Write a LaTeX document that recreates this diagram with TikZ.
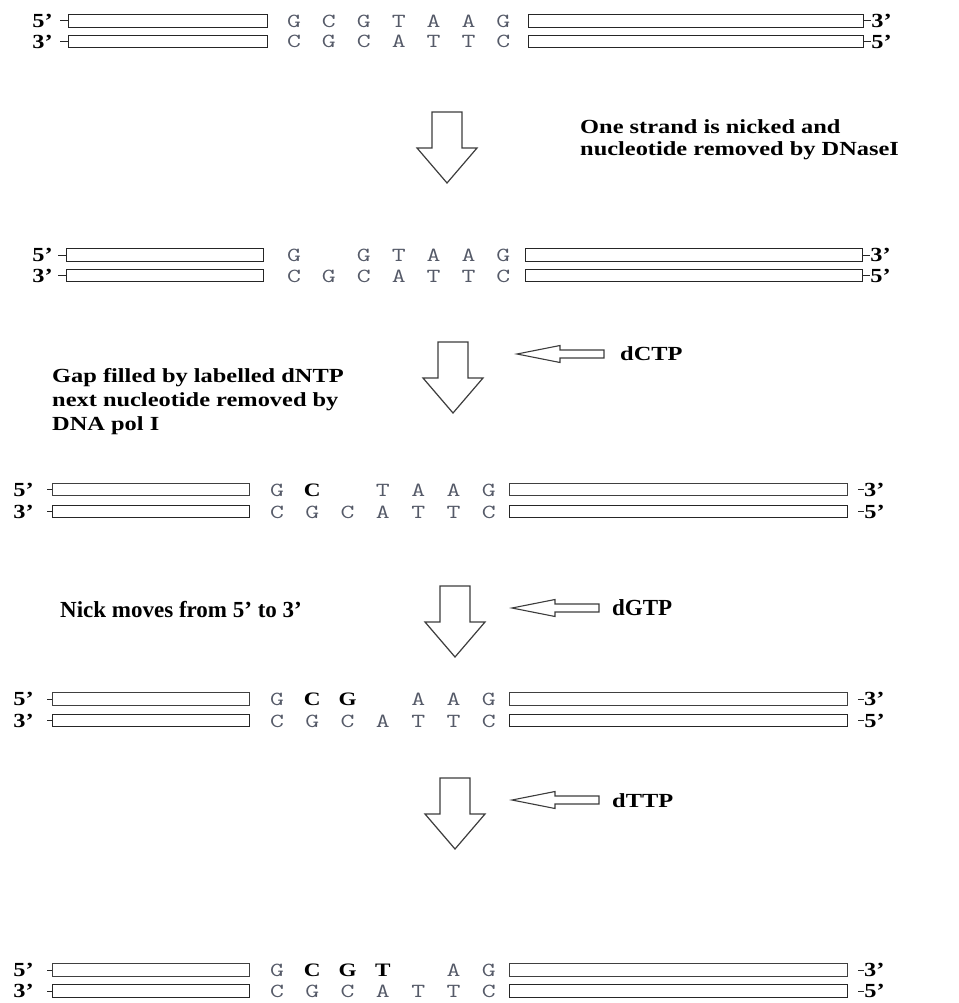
\documentclass[tikz,border=0pt]{standalone}
\usepackage{fontspec}
\setmainfont{Liberation Serif}
\newfontfamily\notefont[FakeStretch=1.22]{Liberation Serif}
\newfontfamily\nickfont{Liberation Serif}
\definecolor{basegray}{RGB}{85,90,104}
\definecolor{arrowgray}{RGB}{60,60,60}
\newcommand{\nt}[1]{\scalebox{1.35}[1]{#1}}
\begin{document}
\begin{tikzpicture}[x=1pt,y=-1pt,
  strand/.style={draw=black!85, line width=1.1pt, fill=white, inner sep=0pt,
    minimum height=12.5pt, anchor=west},
  newstrand/.style={strand, draw=black!75, line width=0.9pt, append after command={
    [draw=gray!45, line width=2pt]
    ([shift={(1.5pt,-1.5pt)}]\tikzlastnode.north west) rectangle
    ([shift={(-1.5pt,1.5pt)}]\tikzlastnode.south east)}},
  base/.style={font=\ttfamily\fontsize{20}{20}\selectfont, text=basegray,
    inner sep=0pt, anchor=base},
  newbase/.style={base, font=\notefont\bfseries\fontsize{19}{19}\selectfont, text=black},
  endlab/.style={font=\notefont\bfseries\fontsize{20}{20}\selectfont, inner sep=0pt},
  note/.style={font=\notefont\bfseries\fontsize{20}{20}\selectfont, inner sep=0pt,
    anchor=base west},
  nick/.style={font=\nickfont\bfseries\fontsize{23}{23}\selectfont, inner sep=0pt,
    anchor=base west},
  tick/.style={line width=1pt, black!85},
  bigdown/.pic={\draw[arrowgray, line width=1.2pt, line join=miter, fill=white]
    (-15,0) -- (15,0) -- (15,36) -- (30,36) -- (0,71) -- (-30,36) -- (-15,36) -- cycle;},
  smallleft/.pic={\draw[arrowgray, line width=1.1pt, fill=white]
    (0,0) -- (43,-8.5) -- (43,-4) -- (87,-4) -- (87,4) -- (43,4) -- (43,8.5) -- cycle;}
]
\useasboundingbox (0,0) rectangle (958,1003);

% ---------- row 1 : intact duplex ----------
\node[strand, minimum width=199pt] (r1tl) at (68,21) {};
\node[strand, minimum width=199pt] (r1bl) at (68,41.5) {};
\node[strand, minimum width=335pt] (r1tr) at (528,21) {};
\node[strand, minimum width=335pt] (r1br) at (528,41.5) {};
\draw[tick] (r1tl.west) -- ++(-8,0) coordinate (r1tla);
\draw[tick] (r1bl.west) -- ++(-8,0) coordinate (r1bla);
\draw[tick] (r1tr.east) -- ++(7,0) coordinate (r1tra);
\draw[tick] (r1br.east) -- ++(7,0) coordinate (r1bra);
\node[endlab, anchor=east] (r1t5) at ([xshift=-7pt]r1tla) {5’};
\node[endlab, anchor=east] (r1b3) at ([xshift=-7pt]r1bla) {3’};
\node[endlab, anchor=west] (r1t3) at (r1tra) {3’};
\node[endlab, anchor=west] (r1b5) at (r1bra) {5’};
\foreach \l [count=\k from 0] in {G,C,G,T,A,A,G}
  \node[base] (r1t\k) at ({294+34.9*\k},27.5) {\nt{\l}};
\foreach \l [count=\k from 0] in {C,G,C,A,T,T,C}
  \node[base] (r1b\k) at ({294+34.9*\k},48) {\nt{\l}};

% ---------- arrow 1 ----------
\pic at (447,112) {bigdown};
\node[note] (n1a) at (580,134) {One strand is nicked and};
\node[note] (n1b) at (580,156) {nucleotide removed by DNaseI};

% ---------- row 2 : nicked strand ----------
\node[strand, minimum width=197pt] (r2tl) at (66,255) {};
\node[strand, minimum width=197pt] (r2bl) at (66,275.5) {};
\node[strand, minimum width=337pt] (r2tr) at (525,255) {};
\node[strand, minimum width=337pt] (r2br) at (525,275.5) {};
\draw[tick] (r2tl.west) -- ++(-8,0) coordinate (r2tla);
\draw[tick] (r2bl.west) -- ++(-8,0) coordinate (r2bla);
\draw[tick] (r2tr.east) -- ++(7,0) coordinate (r2tra);
\draw[tick] (r2br.east) -- ++(7,0) coordinate (r2bra);
\node[endlab, anchor=east] (r2t5) at ([xshift=-5pt]r2tla) {5’};
\node[endlab, anchor=east] (r2b3) at ([xshift=-5pt]r2bla) {3’};
\node[endlab, anchor=west] (r2t3) at (r2tra) {3’};
\node[endlab, anchor=west] (r2b5) at (r2bra) {5’};
\foreach \k/\l in {0/G,2/G,3/T,4/A,5/A,6/G}
  \node[base] (r2t\k) at ({294+34.9*\k},261.5) {\nt{\l}};
\foreach \l [count=\k from 0] in {C,G,C,A,T,T,C}
  \node[base] (r2b\k) at ({294+34.9*\k},282) {\nt{\l}};

% ---------- arrow 2 with dCTP ----------
\pic at (453,342) {bigdown};
\pic at (517,354) {smallleft};
\node[note] (dctp) at (620,360) {dCTP};
\node[note] (n2a) at (52,382) {Gap filled by labelled dNTP};
\node[note] (n2b) at (52,406) {next nucleotide removed by};
\node[note] (n2c) at (52,430) {DNA pol I};

% ---------- row 3 : C incorporated ----------
\node[newstrand, minimum width=197pt] (r3tl) at (52,489.5) {};
\node[strand, minimum width=197pt] (r3bl) at (52,511.5) {};
\node[newstrand, minimum width=338pt] (r3tr) at (509,489.5) {};
\node[strand, minimum width=338pt] (r3br) at (509,511.5) {};
\draw[tick] (r3tl.west) -- ++(-5,0) coordinate (r3tla);
\draw[tick] (r3bl.west) -- ++(-5,0) coordinate (r3bla);
\draw[tick] ([xshift=10pt]r3tr.east) -- ++(6,0) coordinate (r3tra);
\draw[tick] ([xshift=10pt]r3br.east) -- ++(6,0) coordinate (r3bra);
\node[endlab, anchor=east] (r3t5) at ([xshift=-13pt]r3tla) {5’};
\node[endlab, anchor=east] (r3b3) at ([xshift=-13pt]r3bla) {3’};
\node[endlab, anchor=west] (r3t3) at (r3tra) {3’};
\node[endlab, anchor=west] (r3b5) at (r3bra) {5’};
\foreach \k/\l in {0/G,3/T,4/A,5/A,6/G}
  \node[base] (r3t\k) at ({277+35.3*\k},496) {\nt{\l}};
\node[newbase] (r3t1) at ({277+35.3},496) {C};
\foreach \l [count=\k from 0] in {C,G,C,A,T,T,C}
  \node[base] (r3b\k) at ({277+35.3*\k},518) {\nt{\l}};

% ---------- arrow 3 with dGTP ----------
\pic at (455,586) {bigdown};
\pic at (512,608) {smallleft};
\node[nick] (dgtp) at (612,615) {dGTP};
\node[nick] (n3) at (60,617) {Nick moves from 5’ to 3’};

% ---------- row 4 : G incorporated ----------
\node[newstrand, minimum width=197pt] (r4tl) at (52,699) {};
\node[strand, minimum width=197pt] (r4bl) at (52,720.5) {};
\node[newstrand, minimum width=338pt] (r4tr) at (509,699) {};
\node[strand, minimum width=338pt] (r4br) at (509,720.5) {};
\draw[tick] (r4tl.west) -- ++(-5,0) coordinate (r4tla);
\draw[tick] (r4bl.west) -- ++(-5,0) coordinate (r4bla);
\draw[tick] ([xshift=10pt]r4tr.east) -- ++(6,0) coordinate (r4tra);
\draw[tick] ([xshift=10pt]r4br.east) -- ++(6,0) coordinate (r4bra);
\node[endlab, anchor=east] (r4t5) at ([xshift=-13pt]r4tla) {5’};
\node[endlab, anchor=east] (r4b3) at ([xshift=-13pt]r4bla) {3’};
\node[endlab, anchor=west] (r4t3) at (r4tra) {3’};
\node[endlab, anchor=west] (r4b5) at (r4bra) {5’};
\foreach \k/\l in {0/G,4/A,5/A,6/G}
  \node[base] (r4t\k) at ({277+35.3*\k},705.5) {\nt{\l}};
\foreach \k/\l in {1/C,2/G}
  \node[newbase] (r4t\k) at ({277+35.3*\k},705.5) {\l};
\foreach \l [count=\k from 0] in {C,G,C,A,T,T,C}
  \node[base] (r4b\k) at ({277+35.3*\k},727) {\nt{\l}};

% ---------- arrow 4 with dTTP ----------
\pic at (455,778) {bigdown};
\pic at (512,800) {smallleft};
\node[note] (dttp) at (612,807) {dTTP};

% ---------- row 5 : T incorporated ----------
\node[newstrand, minimum width=197pt] (r5tl) at (52,970) {};
\node[strand, minimum width=197pt] (r5bl) at (52,991) {};
\node[newstrand, minimum width=338pt] (r5tr) at (509,970) {};
\node[strand, minimum width=338pt] (r5br) at (509,991) {};
\draw[tick] (r5tl.west) -- ++(-5,0) coordinate (r5tla);
\draw[tick] (r5bl.west) -- ++(-5,0) coordinate (r5bla);
\draw[tick] ([xshift=10pt]r5tr.east) -- ++(6,0) coordinate (r5tra);
\draw[tick] ([xshift=10pt]r5br.east) -- ++(6,0) coordinate (r5bra);
\node[endlab, anchor=east] (r5t5) at ([xshift=-13pt]r5tla) {5’};
\node[endlab, anchor=east] (r5b3) at ([xshift=-13pt]r5bla) {3’};
\node[endlab, anchor=west] (r5t3) at (r5tra) {3’};
\node[endlab, anchor=west] (r5b5) at (r5bra) {5’};
\foreach \k/\l in {0/G,5/A,6/G}
  \node[base] (r5t\k) at ({277+35.3*\k},976.5) {\nt{\l}};
\foreach \k/\l in {1/C,2/G,3/T}
  \node[newbase] (r5t\k) at ({277+35.3*\k},976.5) {\l};
\foreach \l [count=\k from 0] in {C,G,C,A,T,T,C}
  \node[base] (r5b\k) at ({277+35.3*\k},997.5) {\nt{\l}};
\end{tikzpicture}
\end{document}
